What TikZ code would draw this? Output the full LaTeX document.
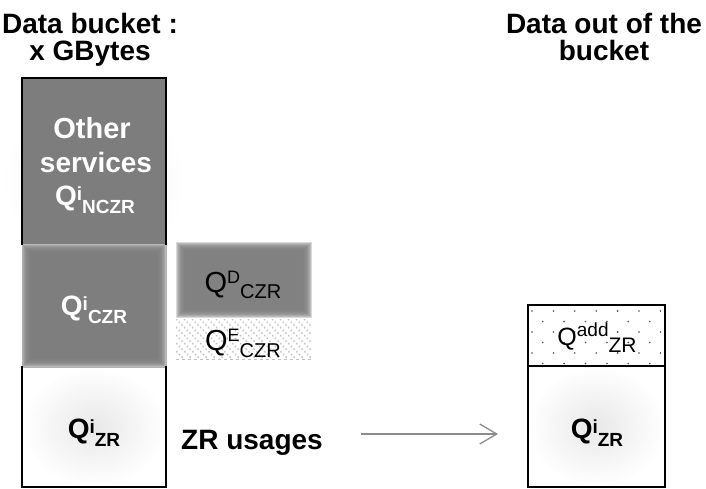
\documentclass[tikz,border=0pt]{standalone}
\usepackage{fontspec}
\setmainfont{Liberation Sans}
\usetikzlibrary{arrows.meta}
\definecolor{boxgray}{gray}{0.49}
\definecolor{arrowgray}{gray}{0.55}
\newcommand{\qbold}[2]{\fontsize{28}{30}\selectfont\bfseries Q\raisebox{5pt}{\fontsize{19}{20}\selectfont #1}\raisebox{-8pt}{\fontsize{19}{20}\selectfont #2}}
\newcommand{\qreg}[5]{\fontsize{#3}{30}\selectfont Q\raisebox{#4}{\fontsize{18}{20}\selectfont #1}\raisebox{-#5}{\fontsize{20}{20}\selectfont #2}}
\newcommand{\softrect}[4]{%
  \foreach \k in {0,...,9}{\fill[boxgray, fill opacity=0.3] ({#1+\k},{#2+\k}) rectangle ({#3-\k},{#4-\k});}}
\begin{document}
\begin{tikzpicture}[x=1pt,y=-1pt,
  title/.style={anchor=base, inner sep=0, font=\fontsize{28}{30}\selectfont\bfseries},
  lab/.style={anchor=base, inner sep=0},
  thick border/.style={line width=2pt, line cap=rect}]
\useasboundingbox (0,0) rectangle (706,488);

% titles
\node[title] (t1) at (90,33) {Data bucket :};
\node[title] (t2) at (90,60) {x GBytes};
\node[title] (t3) at (604,33) {Data out of the};
\node[title] (t4) at (604,60) {bucket};

% left bucket
\shade[inner color=black!6, outer color=white] (94,180) ellipse (92 and 92);
\fill[boxgray] (22,78) rectangle (166,244);
\fill[gray!35] (22,244) rectangle (166,367);
\softrect{22}{244}{166}{367}
\shade[inner color=black!9, outer color=white] (22,367) rectangle (166,487);
\draw[gray!60, line width=1pt] (22,244) -- (22,367) (166,244) -- (166,367) (22,367) -- (166,367);
\draw[thick border] (22,244) -- (22,78) -- (166,78) -- (166,244);
\draw[thick border] (22,367) -- (22,487) -- (166,487) -- (166,367);

\node[lab, text=white, font=\fontsize{29}{30}\selectfont\bfseries] (oth) at (92,138) {Other};
\node[lab, text=white, font=\fontsize{28}{30}\selectfont\bfseries] (serv) at (96,172) {services};
\node[lab, text=white] (qn) at (95,205) {\qbold{i}{NCZR}};
\node[lab, text=white] (qc) at (94,315) {\qbold{i}{CZR}};
\node[lab] (qz) at (94,438) {\qbold{i}{ZR}};

% middle column
\softrect{176}{242}{312}{318}
\begin{scope}
  \clip (176,319) rectangle (312,359);
  \foreach \x in {120,128,...,312}
    \draw[gray!50, line width=1.1pt, dash pattern=on 1.6pt off 2.2pt] (\x,319) -- (\x+40,359);
\end{scope}
\draw[gray!50, line width=0.8pt, dash pattern=on 3pt off 3pt] (176,359) -- (312,359);
\node[lab] (qd) at (243,292) {\qreg{D}{CZR}{29}{9pt}{6pt}};
\node[lab] (qe) at (243,350) {\qreg{E}{CZR}{29}{9pt}{7pt}};
\node[lab, font=\fontsize{28}{30}\selectfont\bfseries] (zru) at (252,449) {ZR usages};

% arrow
\coordinate (a1) at (361,434);
\coordinate (a2) at (498,434);
\draw[arrowgray, line width=1.3pt, -{Straight Barb[length=17pt,width=20pt]}] (a1) -- (a2);

% right bucket
\foreach \r in {0,...,5}{
  \pgfmathtruncatemacro{\odd}{mod(\r,2)}
  \pgfmathtruncatemacro{\last}{6-\odd}
  \foreach \c in {0,...,\last}{
    \fill[black!70] ({532 + 10.7*\odd + 21.4*\c}, {311 + 10.5*\r}) circle (0.9);
  }
}
\shade[inner color=black!9, outer color=white] (528,366) rectangle (665,487);
\draw[thick border] (528,305) rectangle (665,487);
\draw[thick border] (528,366) -- (665,366);
\node[lab] (qa) at (597,345) {\fontsize{25}{30}\selectfont Q\raisebox{9pt}{\fontsize{19}{20}\selectfont add}\raisebox{-7pt}{\fontsize{21}{20}\selectfont ZR}};
\node[lab] (qzr) at (597,438) {\qbold{i}{ZR}};
\end{tikzpicture}
\end{document}
